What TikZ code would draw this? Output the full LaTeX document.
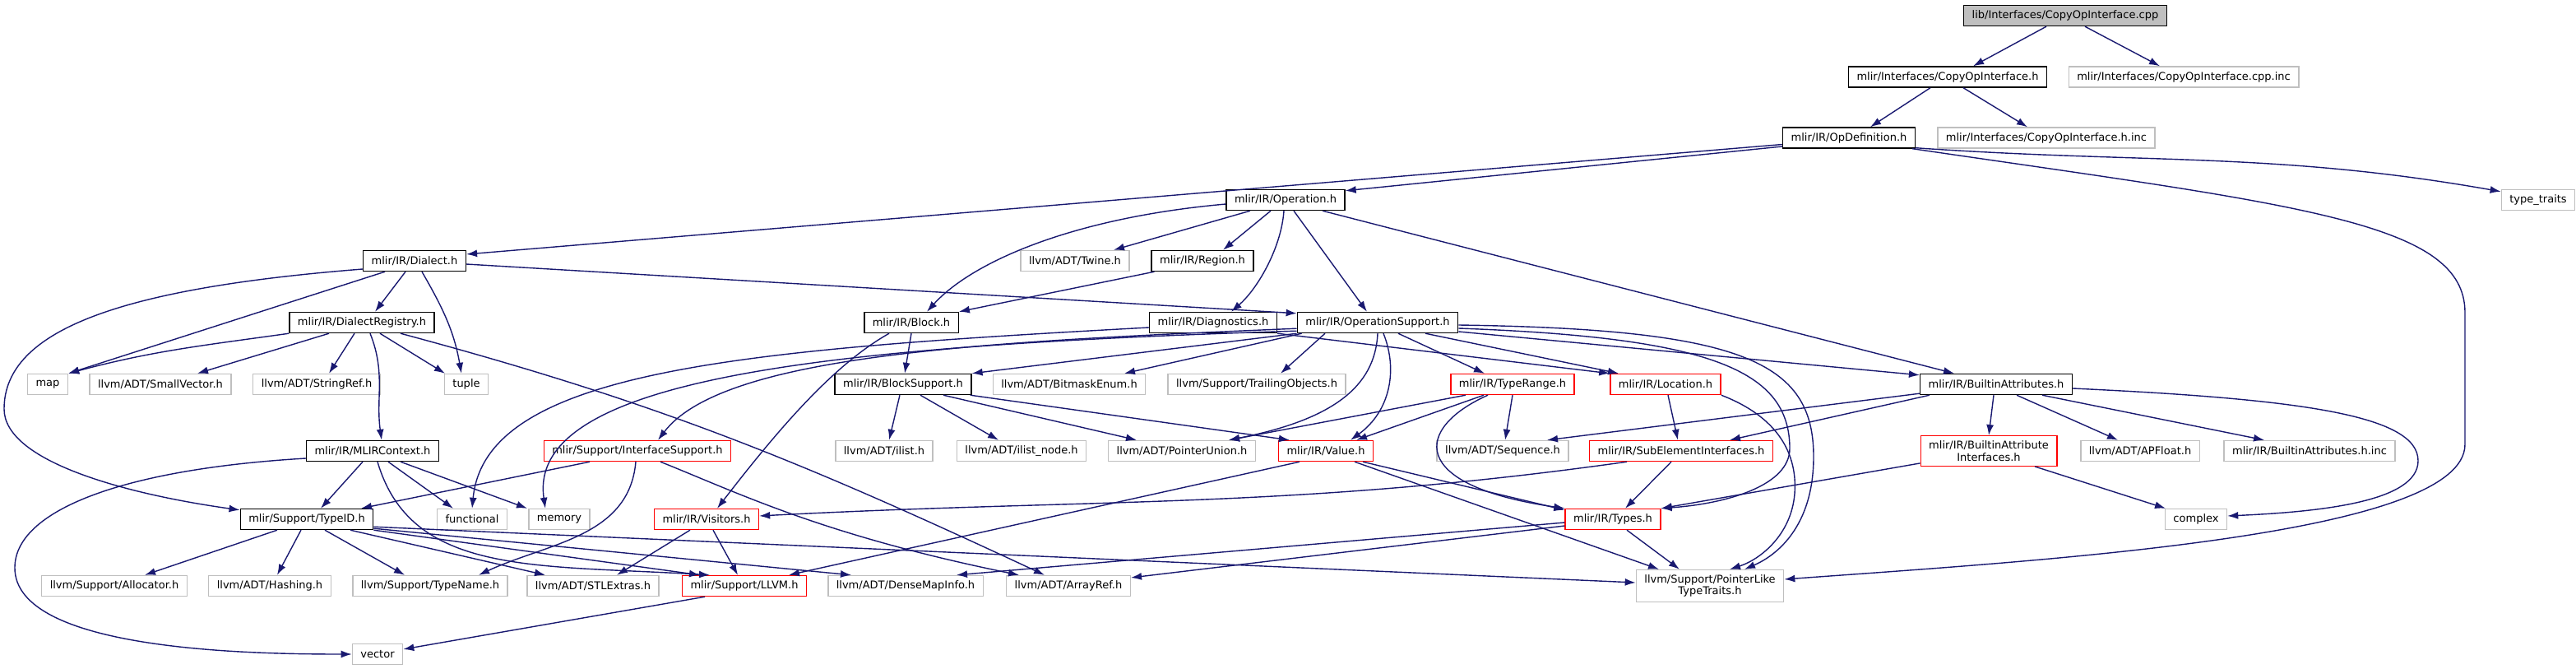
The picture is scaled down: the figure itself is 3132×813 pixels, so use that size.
\documentclass[tikz,border=0pt]{standalone}
\usepackage{fontspec}
\usetikzlibrary{arrows.meta}
\newfontfamily\dejavu{DejaVu Sans}
\definecolor{edgeblue}{HTML}{191970}
\definecolor{extgray}{HTML}{BFBFBF}
\definecolor{cutred}{HTML}{FF0000}
\definecolor{rootfill}{HTML}{BFBFBF}
\tikzset{filebox/.style={draw,fill=white,line width=0.7pt,align=center,inner xsep=5pt,
  inner ysep=3pt,minimum height=12.5pt,font=\dejavu\fontsize{6.5pt}{7.2pt}\selectfont},
  docbox/.style={filebox,draw=black},
  rootbox/.style={filebox,draw=black,fill=rootfill},
  extbox/.style={filebox,draw=extgray},
  cutbox/.style={filebox,draw=cutred},
  arrow/.style={-{Latex[length=6.5pt,width=4.5pt]},line width=0.7pt,draw=edgeblue}}
\begin{document}
\begin{tikzpicture}[x=0.5pt,y=-0.5pt]
\useasboundingbox (0,0) rectangle (3132,813);
\node[rootbox] (src) at (2511,19) {lib/Interfaces/CopyOpInterface.cpp};
\node[docbox] (coph) at (2368,93.5) {mlir/Interfaces/CopyOpInterface.h};
\node[extbox] (cpinc) at (2655,93.5) {mlir/Interfaces/CopyOpInterface.cpp.inc};
\node[docbox] (opdef) at (2248,167.5) {mlir/IR/OpDefinition.h};
\node[extbox] (hinc) at (2488,167.5) {mlir/Interfaces/CopyOpInterface.h.inc};
\node[docbox] (op) at (1563,243) {mlir/IR/Operation.h};
\node[extbox] (ttr) at (3086,243) {type\_traits};
\node[docbox] (dia) at (504,317) {mlir/IR/Dialect.h};
\node[extbox] (twine) at (1307,317) {llvm/ADT/Twine.h};
\node[docbox] (reg) at (1462,317) {mlir/IR/Region.h};
\node[docbox] (dreg) at (440,392) {mlir/IR/DialectRegistry.h};
\node[docbox] (blk) at (1108,392) {mlir/IR/Block.h};
\node[docbox] (diag) at (1475,392) {mlir/IR/Diagnostics.h};
\node[docbox] (osup) at (1675,392) {mlir/IR/OperationSupport.h};
\node[extbox] (map) at (58,467) {map};
\node[extbox] (svec) at (195,467) {llvm/ADT/SmallVector.h};
\node[extbox] (sref) at (385,467) {llvm/ADT/StringRef.h};
\node[extbox] (tuple) at (567,467) {tuple};
\node[docbox] (bsup) at (1098,467) {mlir/IR/BlockSupport.h};
\node[extbox] (bme) at (1300,467) {llvm/ADT/BitmaskEnum.h};
\node[extbox] (trail) at (1528,467) {llvm/Support/TrailingObjects.h};
\node[cutbox] (trange) at (1839,467) {mlir/IR/TypeRange.h};
\node[cutbox] (loc) at (2025,467) {mlir/IR/Location.h};
\node[docbox] (battr) at (2427,467) {mlir/IR/BuiltinAttributes.h};
\node[docbox] (ctx) at (453,548) {mlir/IR/MLIRContext.h};
\node[cutbox] (isup) at (775,548) {mlir/Support/InterfaceSupport.h};
\node[extbox] (ilist) at (1075,548) {llvm/ADT/ilist.h};
\node[extbox] (inode) at (1242,548) {llvm/ADT/ilist\_node.h};
\node[extbox] (pun) at (1437,548) {llvm/ADT/PointerUnion.h};
\node[cutbox] (val) at (1612,548) {mlir/IR/Value.h};
\node[extbox] (seq) at (1827,548) {llvm/ADT/Sequence.h};
\node[cutbox] (sub) at (2044,548) {mlir/IR/SubElementInterfaces.h};
\node[cutbox] (baif) at (2418,548) {mlir/IR/BuiltinAttribute\\Interfaces.h};
\node[extbox] (apf) at (2602,548) {llvm/ADT/APFloat.h};
\node[extbox] (binc) at (2808,548) {mlir/IR/BuiltinAttributes.h.inc};
\node[docbox] (tid) at (373,631) {mlir/Support/TypeID.h};
\node[extbox] (func) at (574,631) {functional};
\node[extbox] (mem) at (680,631) {memory};
\node[cutbox] (vis) at (859,631) {mlir/IR/Visitors.h};
\node[cutbox] (types) at (1961,631) {mlir/IR/Types.h};
\node[extbox] (cplx) at (2670,631) {complex};
\node[extbox] (alloc) at (139,712) {llvm/Support/Allocator.h};
\node[extbox] (hash) at (328,712) {llvm/ADT/Hashing.h};
\node[extbox] (tname) at (523,712) {llvm/Support/TypeName.h};
\node[extbox] (stl) at (721,712) {llvm/ADT/STLExtras.h};
\node[cutbox] (llvm) at (905,712) {mlir/Support/LLVM.h};
\node[extbox] (dmi) at (1101,712) {llvm/ADT/DenseMapInfo.h};
\node[extbox] (aref) at (1299,712) {llvm/ADT/ArrayRef.h};
\node[extbox] (pltt) at (2079,712) {llvm/Support/PointerLike\\TypeTraits.h};
\node[extbox] (vec) at (459,795) {vector};
% top of the graph
\draw[arrow] ([xshift=-11.5pt]src.south)--([xshift=15.5pt]coph.north);
\draw[arrow] ([xshift=12pt]src.south)--([xshift=-14.5pt]cpinc.north);
\draw[arrow] ([xshift=-10.5pt]coph.south)--([xshift=13pt]opdef.north);
\draw[arrow] ([xshift=9.5pt]coph.south)--([xshift=-11.5pt]hinc.north);
\draw[arrow] ([yshift=-5.25pt]opdef.west)--([yshift=-1pt]op.north east);
\draw[arrow] ([yshift=-4pt]opdef.west)--([yshift=4pt]dia.east);
\draw[arrow] ([yshift=0.5pt]opdef.south east) to[out=-4,in=170] ([yshift=-1.5pt]ttr.north west);
\draw[arrow] ([xshift=-2pt]opdef.south east) .. controls (2800,250) and (2997,270) .. (2997,380)
  -- (2997,540) .. controls (2997,650) and (2500,680) .. ([yshift=4pt]pltt.east);
\draw[arrow] ([yshift=-2.5pt]op.west) .. controls (1300,265) and (1180,320) .. ([xshift=9.5pt]blk.north);
\draw[arrow] ([xshift=-21.5pt]op.south)--([xshift=23.5pt]twine.north);
\draw[arrow] ([xshift=-9pt]op.south)--([xshift=12.5pt]reg.north);
\draw[arrow] ([xshift=-1pt]op.south) .. controls (1558,300) and (1530,350) .. ([xshift=11pt]diag.north);
\draw[arrow] ([xshift=5pt]op.south)--([xshift=-6.5pt]osup.north);
\draw[arrow] ([xshift=22.5pt]op.south)--([xshift=-25.5pt]battr.north);
% dialect side
\draw[arrow] ([xshift=-5.5pt]dia.south)--([xshift=8pt]dreg.north);
\draw[arrow] ([xshift=-18pt]dia.south)--(map.north east);
\draw[arrow] ([xshift=4.5pt]dia.south) to[out=-60,in=100] ([xshift=-3pt]tuple.north);
\draw[arrow] ([yshift=-5pt]dia.west) .. controls (150,350) and (5,400) .. (5,497)
  .. controls (5,560) and (150,600) .. ([yshift=-1pt]tid.north west);
\draw[arrow] ([yshift=-2pt]dia.east)--([yshift=-1pt]osup.north west);
\draw[arrow] (dreg.south west) to[out=188,in=15] (map.north east);
\draw[arrow] ([xshift=-20pt]dreg.south)--([xshift=22.5pt]svec.north);
\draw[arrow] ([xshift=-4.5pt]dreg.south)--([xshift=7.5pt]sref.north);
\draw[arrow] ([xshift=5pt]dreg.south) to[out=-68,in=98] ([xshift=5.5pt]ctx.north);
\draw[arrow] ([xshift=11pt]dreg.south)--([xshift=-13pt]tuple.north);
\draw[arrow] ([xshift=23.5pt]dreg.south) to[out=-15,in=155] ([xshift=-14.5pt]aref.north);
\draw[arrow] ([xshift=-6pt]ctx.south)--([xshift=8.5pt]tid.north);
\draw[arrow] ([xshift=9.5pt]ctx.south)--([xshift=-11.5pt]func.north);
\draw[arrow] ([xshift=17pt]ctx.south)--([xshift=-19.5pt]mem.north);
\draw[arrow] ([yshift=-4.5pt]ctx.west) .. controls (150,570) and (18,620) .. (18,690)
  .. controls (18,790) and (300,795) .. (vec.west);
\draw[arrow] ([xshift=3pt]ctx.south) .. controls (500,700) and (650,686) .. ([xshift=-21pt]llvm.north);
\draw[arrow] ([xshift=-18pt]tid.south)--([xshift=18.5pt]alloc.north);
\draw[arrow] ([xshift=-3.5pt]tid.south)--([xshift=4.5pt]hash.north);
\draw[arrow] ([xshift=11pt]tid.south)--([xshift=-15.5pt]tname.north);
\draw[arrow] ([xshift=26.5pt]tid.south)--([xshift=-29pt]stl.north);
\draw[arrow] ([yshift=2pt]tid.south east)--([yshift=2pt]pltt.west);
\draw[arrow] ([yshift=1pt]tid.south east)--([xshift=-33pt]dmi.north);
\draw[arrow] (tid.south east)--([xshift=-27pt]llvm.north);
\draw[arrow] ([xshift=-29pt]isup.south)--([xshift=33pt]tid.north);
\draw[arrow] ([xshift=-1pt]isup.south) to[out=-95,in=25] ([xshift=29.5pt]tname.north);
\draw[arrow] ([xshift=14pt]isup.south) .. controls (900,600) and (1000,650) .. ([xshift=-30pt]aref.north);
% operation support and blocks
\draw[arrow] ([yshift=-3pt]diag.west) .. controls (900,425) and (590,450) .. (func.north);
\draw[arrow] (diag.south east)--(loc.north west);
\draw[arrow] (blk.south)--([xshift=1pt]bsup.north);
\draw[arrow] ([xshift=-13.5pt]blk.south) .. controls (1010,445) and (940,530) .. ([xshift=6.5pt]vis.north);
\draw[arrow] ([xshift=2pt]reg.south west)--(blk.north east);
\draw[arrow] ([xshift=-2pt]bsup.south)--([xshift=3pt]ilist.north);
\draw[arrow] ([xshift=10.5pt]bsup.south)--([xshift=-14pt]inode.north);
\draw[arrow] ([xshift=24.5pt]bsup.south)--([xshift=-27.5pt]pun.north);
\draw[arrow] ([xshift=-1pt]bsup.south east)--([xshift=7pt]val.north west);
\draw[arrow] (osup.south west)--(bsup.north east);
\draw[arrow] ([xshift=3pt]osup.south west)--([xshift=33.5pt]bme.north);
\draw[arrow] ([xshift=-32pt]osup.south)--([xshift=14.5pt]trail.north);
\draw[arrow] ([yshift=3pt]osup.south west) .. controls (1200,415) and (880,430) .. ([xshift=12.5pt]isup.north);
\draw[arrow] ([yshift=1.5pt]osup.south west) .. controls (1000,420) and (640,460) .. ([xshift=-8.5pt]mem.north);
\draw[arrow] ([xshift=3.5pt]osup.south) .. controls (1700,450) and (1690,500) .. ([xshift=15pt]val.north);
\draw[arrow] (osup.south) .. controls (1672,470) and (1620,510) .. ([xshift=28.5pt]pun.north);
\draw[arrow] ([xshift=12.5pt]osup.south)--([xshift=-17pt]trange.north);
\draw[arrow] ([xshift=29pt]osup.south)--([xshift=-28.5pt]loc.north);
\draw[arrow] ([yshift=-5.5pt]osup.east)--([yshift=-1pt]battr.north west);
\draw[arrow] ([yshift=-3.5pt]osup.east) .. controls (2080,410) and (2176,450) .. (2176,545)
  .. controls (2176,590) and (2100,612) .. (types.north east);
\draw[arrow] ([yshift=-1.5pt]osup.east) .. controls (2120,400) and (2205,440) .. (2205,555)
  .. controls (2205,640) and (2160,675) .. ([xshift=21pt]pltt.north);
\draw[arrow] ([xshift=-17.5pt]trange.south)--([xshift=18.5pt]val.north);
\draw[arrow] ([xshift=-28.5pt]trange.south)--([xshift=28.5pt]pun.north);
\draw[arrow] ([xshift=-15pt]trange.south) .. controls (1720,520) and (1710,590) .. (types.north west);
\draw[arrow] (trange.south)--([xshift=1.5pt]seq.north);
\draw[arrow] ([xshift=1.5pt]loc.south)--([xshift=-2pt]sub.north);
\draw[arrow] (loc.south east) .. controls (2170,510) and (2185,560) .. (2182,600)
  .. controls (2178,650) and (2140,680) .. ([xshift=12pt]pltt.north);
\draw[arrow] ([xshift=22.5pt]val.south)--([yshift=-1pt]types.north west);
\draw[arrow] ([xshift=17.5pt]val.south)--([xshift=-31pt]pltt.north);
\draw[arrow] ([xshift=-16pt]val.south)--([xshift=27pt]llvm.north);
\draw[arrow] ([xshift=-6pt]sub.south)--([xshift=7.5pt]types.north);
\draw[arrow] ([xshift=-33pt]sub.south) to[out=-172,in=3] ([yshift=2pt]vis.east);
\draw[arrow] ([yshift=-2pt]types.west)--([xshift=31pt]dmi.north);
\draw[arrow] ([yshift=-4pt]types.west)--([yshift=5pt]aref.east);
\draw[arrow] ([xshift=8.5pt]types.south)--([xshift=-18.5pt]pltt.north);
\draw[arrow] ([xshift=4pt]vis.south)--([xshift=-4pt]llvm.north);
\draw[arrow] ([xshift=-10pt]vis.south)--([xshift=14.5pt]stl.north);
\draw[arrow] ([xshift=-24pt]llvm.south)--([yshift=3pt]vec.east);
% builtin attributes
\draw[arrow] ([yshift=1pt]battr.south west)--([xshift=27pt]seq.north);
\draw[arrow] ([xshift=-40.5pt]battr.south)--([xshift=29.5pt]sub.north);
\draw[arrow] ([xshift=-1.5pt]battr.south)--(baif.north);
\draw[arrow] ([xshift=12.5pt]battr.south)--([xshift=-13.5pt]apf.north);
\draw[arrow] ([xshift=28pt]battr.south)--([xshift=-27.5pt]binc.north);
\draw[arrow] ([yshift=-2.5pt]battr.east) .. controls (2800,485) and (2940,505) .. (2940,560)
  .. controls (2940,610) and (2820,622) .. ([yshift=2pt]cplx.east);
\draw[arrow] ([xshift=28pt]baif.south)--([xshift=-18.5pt]cplx.north);
\draw[arrow] ([yshift=2pt]baif.south west)--(types.north east);
\end{tikzpicture}
\end{document}
